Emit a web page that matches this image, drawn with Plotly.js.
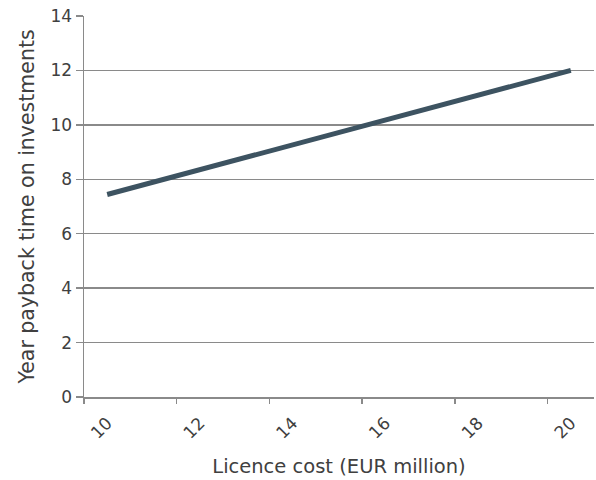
<!DOCTYPE html>
<html>
<head>
<meta charset="utf-8">
<script src="https://cdn.plot.ly/plotly-3.0.1.min.js"></script>
<style>html,body{margin:0;padding:0;background:#fff;}#chart{width:596px;height:480px;}</style>
</head>
<body>
<div id="chart"></div>
<script>
// Licence cost (EUR million) categories
const licenceCost = [10, 11, 12, 13, 14, 15, 16, 17, 18, 19, 20];
// Year payback time on investments
const paybackYears = [7.44, 7.9, 8.36, 8.81, 9.26, 9.72, 10.17, 10.63, 11.09, 11.55, 12.0];
// Labelled ticks and boundary tick marks
const xTickLabels = ['10', '12', '14', '16', '18', '20'];
const xTickVals = [10, 12, 14, 16, 18, 20];
const xTickMarks = [9.5, 11.5, 13.5, 15.5, 17.5, 19.5];
const yTickVals = [0, 2, 4, 6, 8, 10, 12, 14];

const fontFam = '"DejaVu Sans", sans-serif';
const txt = '#404040';
const grid = '#8a8a8a';

const traces = [
  {
    x: licenceCost, y: paybackYears, type: 'scatter', mode: 'lines',
    line: {color: '#3d5361', width: 5},
    hoverinfo: 'x+y', showlegend: false
  },
  {
    x: licenceCost, y: paybackYears, type: 'scatter', mode: 'lines',
    xaxis: 'x2', line: {width: 0}, opacity: 0, hoverinfo: 'skip', showlegend: false
  }
];

const layout = {
  width: 596, height: 480,
  margin: {l: 84, r: 2, t: 16, b: 83},
  paper_bgcolor: '#fff', plot_bgcolor: '#fff',
  font: {family: fontFam, color: txt, size: 17},
  showlegend: false,
  xaxis: {
    range: [9.5, 20.5],
    tickvals: xTickVals, ticktext: xTickLabels,
    tickangle: -45,
    ticks: 'outside', ticklen: 8, tickcolor: 'rgba(0,0,0,0)',
    showgrid: false, zeroline: false,
    showline: true, linecolor: grid, linewidth: 1.5,
    tickfont: {size: 17, color: txt},
    title: {text: 'Licence cost (EUR million)', font: {size: 19.5, color: txt}, standoff: 18}
  },
  xaxis2: {
    overlaying: 'x', matches: 'x', range: [9.5, 20.5],
    tickvals: xTickMarks, showticklabels: false,
    ticks: 'outside', ticklen: 6, tickcolor: grid, tickwidth: 1.5,
    showgrid: false, zeroline: false, showline: false
  },
  yaxis: {
    range: [0, 14],
    tickvals: yTickVals,
    ticks: 'outside', ticklen: 7, tickcolor: grid, tickwidth: 1.5,
    showgrid: true, gridcolor: grid, gridwidth: 1.5,
    zeroline: false,
    showline: true, linecolor: grid, linewidth: 1.5,
    tickfont: {size: 17, color: txt},
    title: {text: 'Year payback time on investments', font: {size: 20.5, color: txt}, standoff: 10}
  }
};

Plotly.newPlot('chart', traces, layout, {staticPlot: true, displayModeBar: false});
</script>
</body>
</html>
